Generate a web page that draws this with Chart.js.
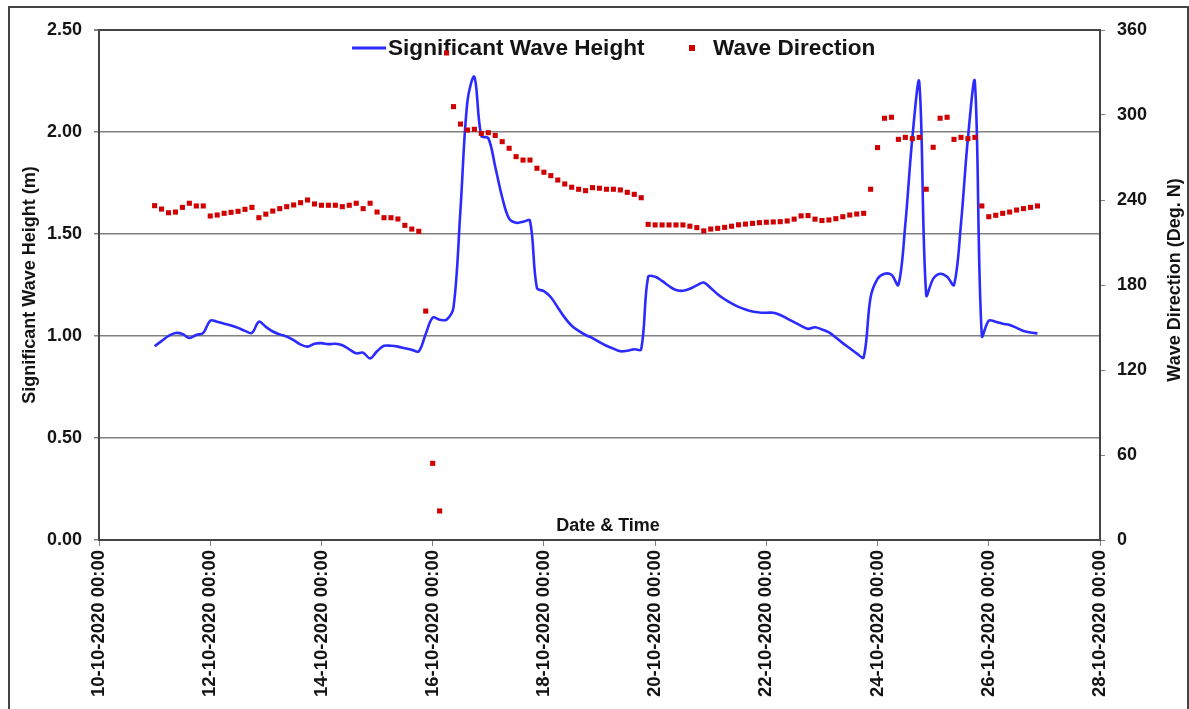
<!DOCTYPE html>
<html>
<head>
<meta charset="utf-8">
<script src="https://cdn.jsdelivr.net/npm/chart.js@4.4.0/dist/chart.umd.min.js"></script>
<style>
  html, body { margin: 0; padding: 0; background: #fff; overflow: hidden; }
  #wrap { position: relative; width: 1189px; height: 709px; }
  #grafico { display: block; }
  #frame { position: absolute; left: 8px; top: 6px; width: 1177px; height: 720px;
           border: 2px solid #444; pointer-events: none; }
</style>
</head>
<body>
<div id="wrap">
  <canvas id="grafico" width="1189" height="709"></canvas>
  <div id="frame"></div>
</div>
<script>
// first sample 11-10-2020 00:00, then every 3 hours (x axis in days from 10-10-2020 00:00)
const inicioDia = 1;
const passoHoras = 3;

const xTickLabels = [
  "10-10-2020 00:00", "12-10-2020 00:00", "14-10-2020 00:00", "16-10-2020 00:00",
  "18-10-2020 00:00", "20-10-2020 00:00", "22-10-2020 00:00", "24-10-2020 00:00",
  "26-10-2020 00:00", "28-10-2020 00:00"
];

// significant wave height (m)
const alturaOnda = [
  0.95, 0.975, 1.00, 1.015, 1.01, 0.99, 1.005, 1.015, 1.075, 1.07,
  1.06, 1.052, 1.04, 1.025, 1.015, 1.07, 1.045, 1.022, 1.008, 0.997,
  0.98, 0.958, 0.948, 0.962, 0.965, 0.96, 0.962, 0.955, 0.935, 0.915,
  0.918, 0.89, 0.925, 0.952, 0.952, 0.948, 0.94, 0.932, 0.925, 1.01,
  1.09, 1.08, 1.08, 1.14, 1.62, 2.15, 2.27, 1.98, 1.97, 1.83,
  1.68, 1.575, 1.555, 1.56, 1.565, 1.235, 1.22, 1.19, 1.14, 1.09,
  1.05, 1.025, 1.005, 0.99, 0.97, 0.952, 0.938, 0.925, 0.928, 0.935,
  0.935, 1.29, 1.29, 1.27, 1.245, 1.225, 1.222, 1.232, 1.248, 1.262,
  1.235, 1.205, 1.18, 1.16, 1.143, 1.13, 1.12, 1.115, 1.114, 1.114,
  1.103, 1.085, 1.068, 1.05, 1.035, 1.043, 1.032, 1.018, 0.993, 0.965,
  0.94, 0.915, 0.895, 1.19, 1.28, 1.305, 1.3, 1.25, 1.55, 1.97,
  2.245, 1.2, 1.28, 1.305, 1.29, 1.25, 1.55, 1.97, 2.245, 1.0,
  1.075, 1.07, 1.06, 1.054, 1.04, 1.025, 1.017, 1.013
];

// wave direction (deg. N)
const direcaoOnda = [
  236, 233.6, 231, 231.5, 234.8, 237.7, 235.8, 235.8, 228.7, 229.4,
  230.6, 231.3, 232, 233.4, 234.8, 227.5, 230, 232.2, 233.9, 235.3,
  236.5, 238.1, 240, 237.2, 236.3, 236.3, 236.3, 235.3, 236.3, 237.7,
  233.9, 237.7, 231.5, 227.5, 227.5, 226.6, 222.1, 219.5, 217.9, 161.6,
  54.1, 20.5, 343.8, 305.9, 293.6, 289.4, 289.9, 287, 287.5, 285.6,
  281.2, 276.5, 270.6, 268.2, 268.2, 262.4, 259.6, 257.2, 254.1, 251.3,
  249, 247.6, 246.6, 248.7, 248.3, 247.6, 247.6, 247.1, 245.4, 244,
  241.6, 222.8, 222.4, 222.4, 222.4, 222.4, 222.4, 221.5, 220.5, 218.2,
  219.5, 220, 220.7, 221.5, 222.5, 223, 223.5, 224, 224.3, 224.5,
  224.7, 225.2, 226.5, 228.8, 229, 226.5, 225.5, 225.9, 226.8, 228.2,
  229.4, 230.1, 230.6, 247.6, 277, 297.7, 298.4, 282.8, 284.2, 283.3,
  284.2, 247.6, 277.2, 297.7, 298.4, 282.8, 284.2, 283.3, 284.2, 235.8,
  228.2, 229.2, 230.6, 231.5, 232.9, 233.9, 234.8, 235.8
];

const fonte = "'Liberation Sans', Arial, sans-serif";
const corTexto = "#141414";
const corBorda = "#444444";
const corGrade = "#808080";

function tempo(i){
  return inicioDia + i * passoHoras / 24;
}

const pontosAltura = alturaOnda.map((v, i) => ({ x: tempo(i), y: v }));
const pontosDirecao = direcaoOnda.map((v, i) => ({ x: tempo(i), y: v }));

const extras = {
  id: "extras",
  beforeDatasetsDraw(chart){
    const ctx = chart.ctx;
    const a = chart.chartArea;
    ctx.save();
    ctx.fillStyle = corTexto;
    ctx.textBaseline = "middle";

    // x title inside the plot
    ctx.font = "bold 18px " + fonte;
    ctx.textAlign = "center";
    ctx.fillText("Date & Time", 608, a.bottom - 14);

    // left title
    ctx.save();
    ctx.translate(30, (a.top + a.bottom) / 2);
    ctx.rotate(-Math.PI / 2);
    ctx.fillText("Significant Wave Height (m)", 0, 0);
    ctx.restore();

    // right title
    ctx.save();
    ctx.translate(1175, 280);
    ctx.rotate(-Math.PI / 2);
    ctx.fillText("Wave Direction (Deg. N)", 0, 0);
    ctx.restore();

    // legend
    ctx.font = "bold 22.6px " + fonte;
    ctx.textAlign = "left";
    ctx.strokeStyle = "#2b2bff";
    ctx.lineWidth = 3;
    ctx.beginPath();
    ctx.moveTo(352, 48);
    ctx.lineTo(386, 48);
    ctx.stroke();
    ctx.fillText("Significant Wave Height", 388, 49);
    ctx.fillStyle = "#d10000";
    ctx.fillRect(689, 45, 6, 6);
    ctx.fillStyle = corTexto;
    ctx.fillText("Wave Direction", 713, 49);

    ctx.restore();
  }
};

new Chart(document.getElementById("grafico"), {
  type: "line",
  data: {
    datasets: [
      {
        label: "Wave Direction",
        data: pontosDirecao,
        yAxisID: "y1",
        showLine: false,
        pointStyle: "rect",
        pointRadius: 3.6,
        pointBorderWidth: 0,
        pointBackgroundColor: "#d10000",
        borderColor: "#d10000",
        order: 0
      },
      {
        label: "Significant Wave Height",
        data: pontosAltura,
        yAxisID: "y",
        borderColor: "#2b2bff",
        borderWidth: 2.6,
        pointRadius: 0,
        tension: 0.35,
        fill: false,
        order: 1
      }
    ]
  },
  options: {
    responsive: false,
    animation: false,
    layout: { padding: { top: 30, left: 0, right: 0, bottom: 0 } },
    plugins: {
      legend: { display: false },
      tooltip: { enabled: false }
    },
    scales: {
      x: {
        type: "linear",
        min: 0,
        max: 18,
        border: { color: corBorda, width: 2 },
        grid: { drawOnChartArea: false, drawTicks: true, tickLength: 6, color: corGrade },
        ticks: {
          stepSize: 2,
          autoSkip: false,
          minRotation: 90,
          maxRotation: 90,
          padding: 4,
          color: corTexto,
          font: { family: fonte, size: 18.5, weight: "bold" },
          callback: (v) => xTickLabels[Math.round(v / 2)]
        },
        afterFit: (s) => { s.height = 169; }
      },
      y: {
        position: "left",
        min: 0,
        max: 2.5,
        border: { color: corBorda, width: 2 },
        grid: {
          tickLength: 5,
          color: (c) => c.tick && c.tick.value === 2.5 ? corBorda : corGrade,
          lineWidth: (c) => c.tick && c.tick.value === 2.5 ? 2 : 1.5,
          tickColor: corGrade
        },
        ticks: {
          stepSize: 0.5,
          padding: 12,
          color: corTexto,
          font: { family: fonte, size: 18, weight: "bold" },
          callback: (v) => v.toFixed(2)
        },
        afterFit: (s) => { s.width = 99; }
      },
      y1: {
        position: "right",
        min: 0,
        max: 360,
        border: { color: corBorda, width: 2 },
        grid: { drawOnChartArea: false, tickLength: 5, color: corGrade },
        ticks: {
          stepSize: 60,
          padding: 12,
          color: corTexto,
          font: { family: fonte, size: 18, weight: "bold" }
        },
        afterFit: (s) => { s.width = 89; }
      }
    }
  },
  plugins: [extras]
});
</script>
</body>
</html>
